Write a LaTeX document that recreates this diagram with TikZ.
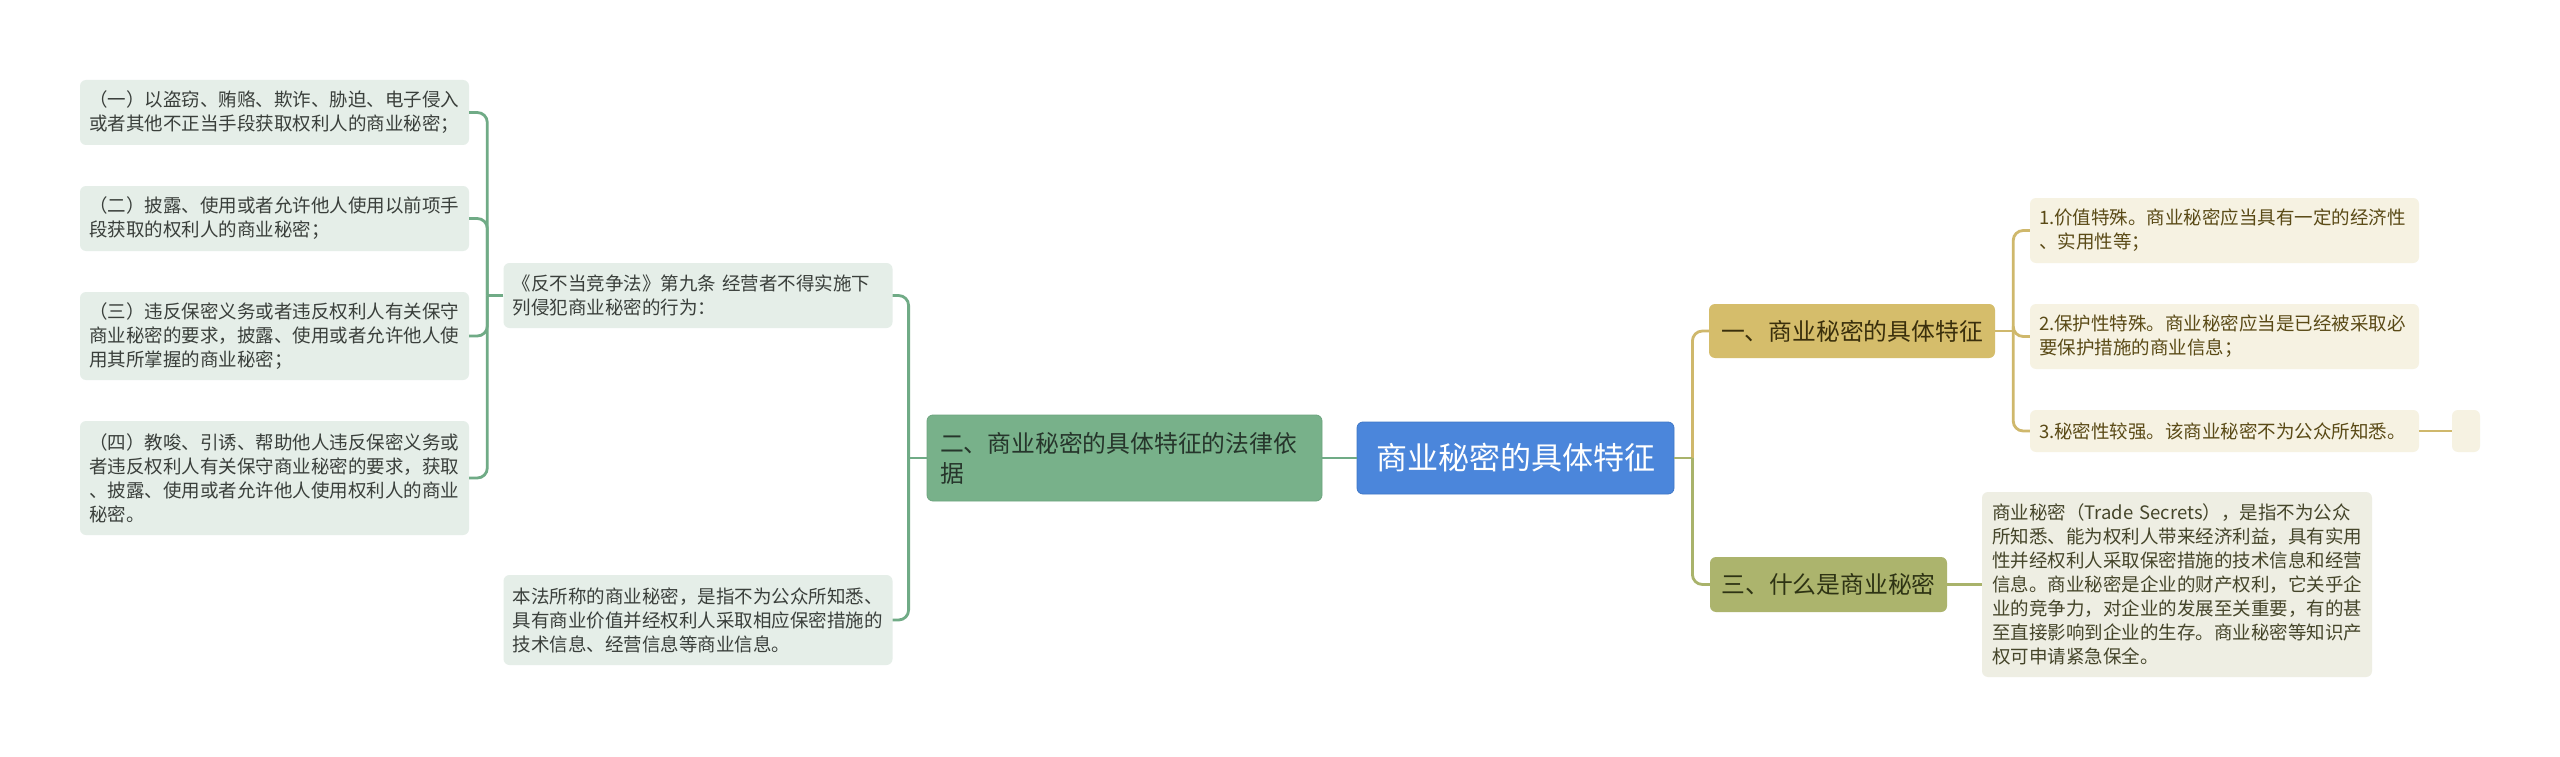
\documentclass[tikz,border=0pt]{standalone}
\usepackage{fontspec}
\newfontfamily\cjk{Noto Sans CJK SC}
\usetikzlibrary{calc}
\definecolor{cfill}{HTML}{4B86DB}
\definecolor{cborder}{HTML}{3F77C6}
\definecolor{gfill}{HTML}{78B18A}
\definecolor{gborder}{HTML}{6CA47E}
\definecolor{gtext}{HTML}{26352B}
\definecolor{lgfill}{HTML}{E5EEE8}
\definecolor{lgtext}{HTML}{3A3F3B}
\definecolor{gline}{HTML}{70AB86}
\definecolor{yfill}{HTML}{D5BD6B}
\definecolor{ytext}{HTML}{3A2F0C}
\definecolor{rfill}{HTML}{F6F2E2}
\definecolor{rtext}{HTML}{5A4A16}
\definecolor{yline}{HTML}{CFB86C}
\definecolor{sfill}{HTML}{ACB46D}
\definecolor{stext}{HTML}{2E3314}
\definecolor{dfill}{HTML}{EEEEE3}
\definecolor{dtext}{HTML}{45452A}
\definecolor{oline}{HTML}{A9B36B}
\tikzset{
  base/.style={rounded corners=6pt, inner ysep=0pt},
  smallfont/.style={font=\cjk\fontsize{18.5}{24}\selectfont},
  lgleaf/.style={base, smallfont, align=left, fill=lgfill, text=lgtext, inner xsep=9pt, text width=371pt},
  rleaf/.style={base, smallfont, align=left, fill=rfill, text=rtext, inner xsep=9pt, text width=371pt},
  dleaf/.style={base, smallfont, align=left, fill=dfill, text=dtext, inner xsep=10pt, text width=370pt},
  emptybox/.style={base, fill=rfill, minimum width=28pt, minimum height=42pt, inner sep=0pt},
  rootnode/.style={base, fill=cfill, draw=cborder, line width=0.8pt, text=white, align=center,
     minimum width=317pt, minimum height=72pt, font=\cjk\fontsize{31}{36}\selectfont},
  gnode/.style={base, fill=gfill, draw=gborder, line width=0.8pt, text=gtext, align=left,
     inner xsep=13pt, text width=369pt, minimum height=86pt, font=\cjk\fontsize{23.8}{30}\selectfont},
  ynode/.style={base, fill=yfill, text=ytext, align=center, minimum width=286pt, minimum height=54pt,
     font=\cjk\fontsize{23.8}{28}\selectfont},
  snode/.style={base, fill=sfill, text=stext, align=center, minimum width=237pt, minimum height=55pt,
     font=\cjk\fontsize{23.8}{28}\selectfont},
  gconn/.style={draw=gline, line width=2.8pt, rounded corners=10pt},
  yconn/.style={draw=yline, line width=2.8pt, rounded corners=10pt},
  oconn/.style={draw=oline, line width=2.8pt, rounded corners=10pt}
}
\begin{document}
\begin{tikzpicture}[x=1pt,y=-1pt]
\useasboundingbox[fill=white] (0,0) rectangle (2560,757);

% root
\node[rootnode] (C) at (1515.5,458) {商业秘密的具体特征};

% left branch
\node[gnode] (G) at (1124.5,458) {二、商业秘密的具体特征的法律依\\据};
\node[lgleaf, minimum height=65pt] (M1) at (698,295.5) {《反不当竞争法》第九条 经营者不得实施下\\列侵犯商业秘密的行为：};
\node[lgleaf, minimum height=90pt] (M2) at (698,620) {本法所称的商业秘密，是指不为公众所知悉、\\具有商业价值并经权利人采取相应保密措施的\\技术信息、经营信息等商业信息。};
\node[lgleaf, minimum height=65pt] (L1) at (274.5,112.5) {（一）以盗窃、贿赂、欺诈、胁迫、电子侵入\\或者其他不正当手段获取权利人的商业秘密；};
\node[lgleaf, minimum height=65pt] (L2) at (274.5,218.5) {（二）披露、使用或者允许他人使用以前项手\\段获取的权利人的商业秘密；};
\node[lgleaf, minimum height=88pt] (L3) at (274.5,336) {（三）违反保密义务或者违反权利人有关保守\\商业秘密的要求，披露、使用或者允许他人使\\用其所掌握的商业秘密；};
\node[lgleaf, minimum height=114pt] (L4) at (274.5,478) {（四）教唆、引诱、帮助他人违反保密义务或\\者违反权利人有关保守商业秘密的要求，获取\\、披露、使用或者允许他人使用权利人的商业\\秘密。};

% right branch
\node[ynode] (Y) at (1852,331) {一、商业秘密的具体特征};
\node[snode] (S) at (1828.5,584.5) {三、什么是商业秘密};
\node[rleaf, minimum height=65pt] (R1) at (2224.5,230.5) {1.价值特殊。商业秘密应当具有一定的经济性\\、实用性等；};
\node[rleaf, minimum height=65pt] (R2) at (2224.5,336.5) {2.保护性特殊。商业秘密应当是已经被采取必\\要保护措施的商业信息；};
\node[rleaf, minimum height=42pt] (R3) at (2224.5,431) {3.秘密性较强。该商业秘密不为公众所知悉。};
\node[emptybox] (E) at (2466,431) {};
\node[dleaf, minimum height=185pt] (D) at (2177,584.5) {商业秘密（Trade Secrets），是指不为公众\\所知悉、能为权利人带来经济利益，具有实用\\性并经权利人采取保密措施的技术信息和经营\\信息。商业秘密是企业的财产权利，它关乎企\\业的竞争力，对企业的发展至关重要，有的甚\\至直接影响到企业的生存。商业秘密等知识产\\权可申请紧急保全。};

% connectors left
\draw[gconn] (C.west) -- (G.east);
\coordinate (gj) at ($(G.west)+(-18,0)$);
\draw[gconn] (G.west) -- (gj);
\draw[gconn] (gj) |- (M1.east);
\draw[gconn] (gj) |- (M2.east);
\coordinate (mj) at ($(M1.west)+(-16,0)$);
\draw[gconn] (M1.west) -- (mj);
\foreach \n in {L1,L2,L3,L4} { \draw[gconn] (mj) |- (\n.east); }

% connectors right
\coordinate (cj) at ($(C.east)+(18,0)$);
\draw[yconn] (cj) |- (Y.west);
\draw[oconn] (cj) |- (S.west);
\draw[oconn] (C.east) -- (cj);
\coordinate (yj) at ($(Y.east)+(18,0)$);
\draw[yconn] (Y.east) -- (yj);
\foreach \n in {R1,R2,R3} { \draw[yconn] (yj) |- (\n.west); }
\draw[yconn] (R3.east) -- (E.west);
\draw[oconn] (S.east) -- (D.west);
\end{tikzpicture}
\end{document}
